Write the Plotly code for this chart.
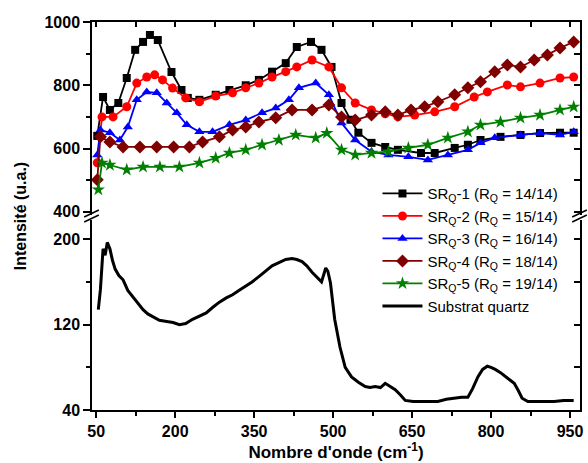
import plotly.graph_objects as go

# ---------------- data ----------------
x_sr1 = [52, 63, 76, 92, 108, 124, 139, 152, 167, 193, 212, 224, 246, 277, 303, 334, 359, 384, 410, 431, 458, 478, 497, 516, 533, 548, 573, 599, 623, 667, 693, 731, 756, 780, 818, 856, 893, 931, 957]
y_sr1 = [640, 763, 722, 744, 823, 912, 937, 959, 943, 842, 785, 760, 754, 770, 785, 800, 817, 843, 870, 921, 937, 912, 858, 744, 691, 650, 618, 605, 596, 586, 586, 602, 612, 627, 637, 643, 649, 650, 650]

x_sr2 = [52, 61, 82, 108, 127, 146, 161, 176, 195, 220, 246, 277, 309, 334, 359, 384, 410, 431, 460, 492, 516, 542, 573, 599, 623, 655, 693, 731, 768, 793, 831, 856, 893, 931, 957]
y_sr2 = [555, 700, 700, 732, 807, 826, 833, 817, 791, 760, 748, 766, 776, 792, 807, 826, 843, 858, 880, 858, 792, 744, 722, 710, 700, 706, 716, 732, 763, 779, 801, 795, 807, 823, 826]

x_sr3 = [52, 58, 76, 95, 110, 127, 146, 165, 184, 203, 222, 246, 271, 303, 334, 365, 391, 416, 435, 467, 492, 516, 542, 573, 605, 643, 680, 718, 756, 780, 807, 856, 893, 931, 957]
y_sr3 = [580, 659, 650, 627, 668, 754, 779, 776, 744, 713, 675, 653, 653, 675, 690, 713, 728, 754, 792, 807, 770, 681, 627, 590, 580, 574, 564, 580, 596, 618, 634, 643, 649, 643, 653]

x_sr4 = [52, 58, 76, 101, 133, 165, 197, 227, 252, 284, 309, 334, 359, 391, 422, 460, 492, 516, 542, 573, 599, 623, 648, 674, 699, 731, 756, 780, 807, 831, 856, 882, 907, 931, 957]
y_sr4 = [501, 637, 621, 605, 605, 605, 605, 605, 621, 637, 659, 668, 684, 697, 722, 722, 738, 700, 690, 706, 716, 706, 722, 732, 748, 770, 792, 811, 843, 864, 858, 880, 896, 918, 937]

x_sr5 = [54, 61, 76, 108, 139, 171, 208, 246, 277, 303, 334, 365, 397, 429, 467, 488, 516, 542, 573, 605, 643, 680, 718, 756, 780, 818, 856, 893, 931, 957]
y_sr5 = [470, 555, 548, 533, 542, 542, 542, 555, 570, 586, 596, 612, 627, 643, 634, 649, 596, 580, 586, 590, 602, 612, 634, 653, 675, 684, 697, 706, 722, 732]

x_sub = [54, 58, 63, 67, 71, 76, 81, 86, 93, 101, 110, 120, 130, 139, 148, 158, 170, 184, 196, 208, 220, 233, 246, 259, 271, 284, 297, 309, 321, 334, 346, 359, 371, 384, 397, 410, 422, 431, 441, 450, 460, 470, 478, 486, 490, 495, 503, 513, 523, 535, 548, 561, 570, 580, 590, 599, 609, 618, 628, 637, 652, 667, 683, 699, 715, 731, 744, 756, 765, 775, 784, 793, 800, 808, 818, 831, 844, 852, 859, 870, 888, 904, 920, 938, 957]
y_sub = [134, 153, 191, 185, 197, 191, 180, 172, 166, 162, 152, 146, 140, 134, 130, 127, 124, 123, 122, 120, 121, 125, 128, 131, 136, 141, 145, 148, 152, 156, 160, 165, 170, 175, 178, 181, 182, 181, 179, 175, 169, 164, 160, 173, 170, 159, 125, 99, 80, 71, 66, 62, 61, 62, 61, 65, 62, 59, 54, 49, 48, 48, 48, 48, 50, 51, 52, 52, 60, 71, 78, 81, 80, 78, 75, 70, 65, 58, 51, 48, 48, 48, 48, 49, 49]

names = ["SR<sub>Q</sub>-1 (R<sub>Q</sub> = 14/14)",
         "SR<sub>Q</sub>-2 (R<sub>Q</sub> = 15/14)",
         "SR<sub>Q</sub>-3 (R<sub>Q</sub> = 16/14)",
         "SR<sub>Q</sub>-4 (R<sub>Q</sub> = 18/14)",
         "SR<sub>Q</sub>-5 (R<sub>Q</sub> = 19/14)"]
sub_name = "Substrat quartz"

x_ticks = [50, 200, 350, 500, 650, 800, 950]
y_upper_ticks = [400, 600, 800, 1000]
y_lower_ticks = [40, 120, 200]

# ---------------- styles ----------------
colors = ["#000000", "#ff0000", "#0000ff", "#800000", "#008000"]
symbols = ["square", "circle", "triangle-up", "diamond", "star"]
msizes = [8, 9, 9, 10, 10]

FONT = "Liberation Sans, Arial, sans-serif"

fig = go.Figure()
series = [(x_sr1, y_sr1), (x_sr2, y_sr2), (x_sr3, y_sr3), (x_sr4, y_sr4), (x_sr5, y_sr5)]
for i, (xs, ys) in enumerate(series):
    fig.add_trace(go.Scatter(
        x=xs, y=ys, name=names[i], mode="lines+markers",
        line=dict(color=colors[i], width=1.8),
        marker=dict(symbol=symbols[i], size=msizes[i], color=colors[i]),
        xaxis="x", yaxis="y2"))

fig.add_trace(go.Scatter(
    x=x_sub, y=y_sub, name=sub_name, mode="lines",
    line=dict(color="#000000", width=3),
    xaxis="x", yaxis="y"))

# empty traces to activate mirror axes
fig.add_trace(go.Scatter(x=[], y=[], xaxis="x2", yaxis="y2", showlegend=False))
fig.add_trace(go.Scatter(x=[], y=[], xaxis="x", yaxis="y3", showlegend=False))
fig.add_trace(go.Scatter(x=[], y=[], xaxis="x", yaxis="y4", showlegend=False))

XR = [42, 969]
UP_DOM = [0.5026, 1.0]
LO_DOM = [0.0, 0.4897]
UP_R = [390, 1000]
LO_R = [40, 218]

tickfont = dict(family=FONT, size=16, color="#000000", weight="bold")

fig.update_layout(
    width=588, height=463,
    margin=dict(l=92, r=5, t=22, b=53),
    paper_bgcolor="white", plot_bgcolor="white",
    font=dict(family=FONT, color="#000000"),
    xaxis=dict(domain=[0, 1], range=XR, anchor="y", showgrid=False, zeroline=False,
               showline=True, linecolor="#000000", linewidth=1.5,
               tickvals=x_ticks, ticks="outside", ticklen=6, tickwidth=1.5, tickcolor="#000000",
               minor=dict(ticks="outside", ticklen=4, tickwidth=1.5, tickcolor="#000000",
                          tick0=50, dtick=75),
               tickfont=tickfont,
               title=dict(text="Nombre d'onde (cm<sup>-1</sup>)",
                          font=dict(family=FONT, size=17, weight="bold"), standoff=0)),
    xaxis2=dict(overlaying="x", matches="x", range=XR, anchor="y2", side="top",
                showgrid=False, zeroline=False, showline=True, linecolor="#000000", linewidth=1.5,
                tick0=50, dtick=75, ticks="inside", ticklen=5, tickwidth=1.5, tickcolor="#000000",
                showticklabels=False),
    yaxis=dict(domain=LO_DOM, range=LO_R, anchor="x", showgrid=False, zeroline=False,
               showline=True, linecolor="#000000", linewidth=1.5,
               tickvals=y_lower_ticks, ticks="outside", ticklen=7, tickwidth=1.5, tickcolor="#000000",
               minor=dict(ticks="outside", ticklen=4, tickwidth=1.5, tickcolor="#000000",
                          tick0=40, dtick=40),
               tickfont=tickfont),
    yaxis2=dict(domain=UP_DOM, range=UP_R, anchor="x", showgrid=False, zeroline=False,
                showline=True, linecolor="#000000", linewidth=1.5,
                tickvals=y_upper_ticks, ticks="outside", ticklen=7, tickwidth=1.5, tickcolor="#000000",
                minor=dict(ticks="outside", ticklen=4, tickwidth=1.5, tickcolor="#000000",
                           tick0=400, dtick=100),
                tickfont=tickfont),
    yaxis3=dict(overlaying="y", range=LO_R, anchor="x", side="right", showgrid=False, zeroline=False,
                showline=True, linecolor="#000000", linewidth=1.5,
                tick0=40, dtick=40, ticks="inside", ticklen=6, tickwidth=1.5, tickcolor="#000000",
                showticklabels=False),
    yaxis4=dict(overlaying="y2", range=UP_R, anchor="x", side="right", showgrid=False, zeroline=False,
                showline=True, linecolor="#000000", linewidth=1.5,
                tick0=400, dtick=100, ticks="inside", ticklen=6, tickwidth=1.5, tickcolor="#000000",
                showticklabels=False),
    legend=dict(x=0.585, y=0.6, xanchor="left", yanchor="top",
                bgcolor="rgba(0,0,0,0)", borderwidth=0,
                font=dict(family=FONT, size=15, color="#000000"),
                itemwidth=40, tracegroupgap=0),
    showlegend=True,
)

# y-axis title as annotation
fig.add_annotation(text="Intensité (u.a.)", textangle=-90, xref="paper", yref="paper",
                   x=-0.147, y=0.5, xanchor="center", yanchor="middle", showarrow=False,
                   font=dict(family=FONT, size=16, weight="bold", color="#000000"))

# axis break marks
for xc in (0.0, 1.0):
    for y0, y1 in ((0.4974, 0.5155), (0.4845, 0.5026)):
        fig.add_shape(type="line", xref="paper", yref="paper",
                      x0=xc - 0.016, x1=xc + 0.014, y0=y0, y1=y1,
                      line=dict(color="#000000", width=1.5))

fig.write_html("out.html", config={"displayModeBar": False},
               post_script="document.body.style.margin='0';document.body.style.overflow='hidden';")
